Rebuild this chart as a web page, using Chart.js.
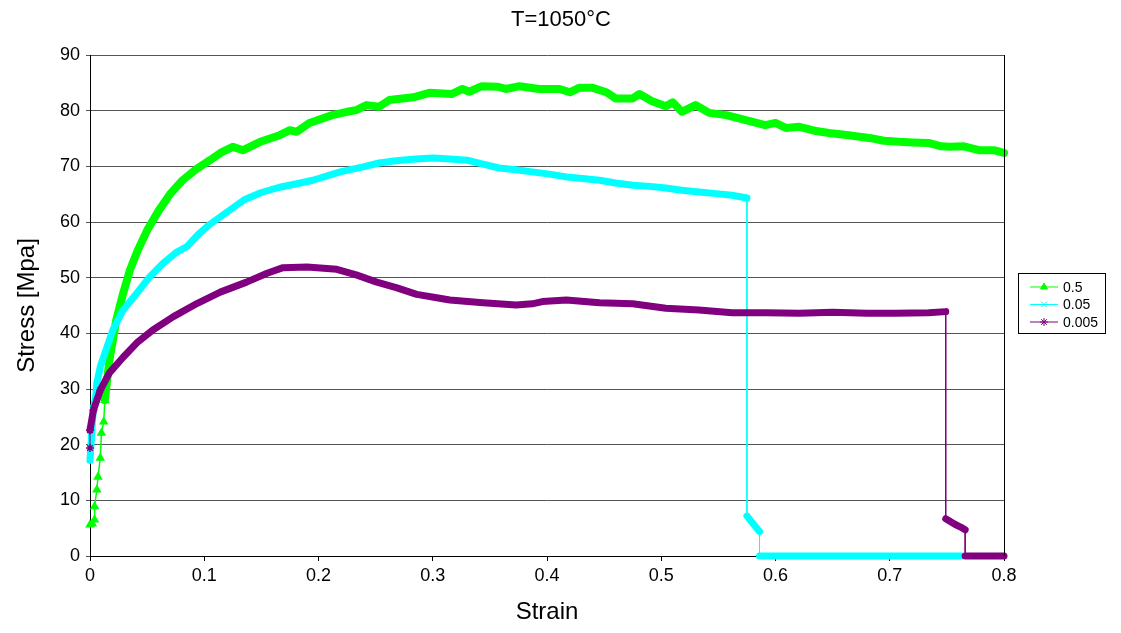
<!DOCTYPE html>
<html>
<head>
<meta charset="utf-8">
<script src="https://cdn.jsdelivr.net/npm/chart.js@4.4.0/dist/chart.umd.min.js"></script>
<style>
  html, body { margin: 0; padding: 0; background: #fff; }
  #wrap { width: 1121px; height: 633px; }
</style>
</head>
<body>
<div id="wrap"><canvas id="chart" width="1121" height="633"></canvas></div>
<script>
// Curvas tensão x deformação (T = 1050 °C)
const strainA = [0, 0.002, 0.004, 0.004, 0.006, 0.007, 0.009, 0.010, 0.012, 0.013, 0.015, 0.017, 0.020, 0.023, 0.029, 0.035, 0.042,
  0.050, 0.060, 0.070, 0.081, 0.093, 0.105, 0.115, 0.125, 0.134, 0.149, 0.166, 0.175, 0.181, 0.192, 0.212, 0.225, 0.233,
  0.242, 0.253, 0.262, 0.283, 0.297, 0.317, 0.326, 0.332, 0.343, 0.357, 0.364, 0.376, 0.393, 0.411, 0.420, 0.428, 0.440,
  0.452, 0.460, 0.475, 0.481, 0.492, 0.504, 0.510, 0.518, 0.530, 0.542, 0.557, 0.574, 0.591, 0.600, 0.609, 0.621, 0.634,
  0.647, 0.664, 0.682, 0.695, 0.708, 0.720, 0.734, 0.745, 0.752, 0.765, 0.778, 0.791, 0.800];
const stressA = [5.6, 5.8, 6.5, 8.9, 11.9, 14.2, 17.6, 22.1, 24.1, 28.0, 31.6, 35.2, 38.8, 42.4, 47.2, 51.4, 55.0,
  58.5, 62.0, 65.0, 67.5, 69.5, 71.1, 72.5, 73.5, 72.9, 74.4, 75.6, 76.5, 76.2, 77.8, 79.2, 79.8, 80.1,
  81.0, 80.7, 81.9, 82.4, 83.2, 83.0, 83.9, 83.4, 84.4, 84.3, 83.9, 84.4, 83.9, 83.9, 83.3, 84.1, 84.1,
  83.3, 82.2, 82.2, 83.0, 81.7, 80.8, 81.5, 79.8, 81.0, 79.6, 79.2, 78.3, 77.4, 77.8, 76.9, 77.1, 76.4,
  76.0, 75.6, 75.1, 74.6, 74.4, 74.3, 74.2, 73.6, 73.5, 73.6, 72.9, 72.9, 72.4];

const strainB = [0, 0.001, 0.002, 0.003, 0.005, 0.006, 0.009, 0.015, 0.020, 0.029, 0.041, 0.052, 0.064, 0.076, 0.085,
  0.095, 0.105, 0.120, 0.135, 0.150, 0.165, 0.184, 0.195, 0.219, 0.239, 0.253, 0.268, 0.285, 0.300, 0.315, 0.330,
  0.344, 0.358, 0.373, 0.387, 0.402, 0.417, 0.431, 0.446, 0.460, 0.475, 0.490, 0.504, 0.518, 0.533, 0.548, 0.562,
  0.575, 0.575, 0.578, 0.582, 0.586, 0.586, 0.763];
const stressB = [17.2, 20.3, 23.9, 26.5, 28.6, 31.1, 34.0, 37.6, 40.6, 44.2, 47.2, 50.1, 52.6, 54.6, 55.6,
  57.8, 59.6, 61.8, 64.0, 65.3, 66.2, 67.0, 67.5, 69.0, 69.9, 70.6, 71.0, 71.3, 71.5, 71.3, 71.1,
  70.4, 69.7, 69.4, 69.0, 68.6, 68.1, 67.8, 67.5, 67.0, 66.6, 66.4, 66.1, 65.7, 65.4, 65.1, 64.8,
  64.3, 7.2, 6.4, 5.4, 4.4, 0, 0];

const strainC = [0, 0, 0.003, 0.009, 0.017, 0.029, 0.041, 0.055, 0.073, 0.094, 0.114, 0.137, 0.155, 0.169, 0.190,
  0.216, 0.233, 0.251, 0.268, 0.286, 0.306, 0.315, 0.344, 0.373, 0.387, 0.396, 0.417, 0.446, 0.475, 0.504, 0.533,
  0.562, 0.592, 0.621, 0.650, 0.680, 0.705, 0.734, 0.749, 0.749, 0.753, 0.757, 0.762, 0.766, 0.766, 0.800];
const stressC = [19.4, 22.6, 26.2, 29.8, 32.9, 35.7, 38.3, 40.6, 43.0, 45.4, 47.4, 49.2, 50.8, 51.8, 51.9,
  51.5, 50.5, 49.2, 48.2, 47.0, 46.3, 46.0, 45.5, 45.1, 45.3, 45.7, 46.0, 45.5, 45.3, 44.5, 44.2,
  43.7, 43.7, 43.6, 43.8, 43.6, 43.6, 43.7, 43.9, 6.7, 6.2, 5.7, 5.2, 4.7, 0, 0];

const seriesLabels = ["0.5", "0.05", "0.005"];
const xTicks = [0, 0.1, 0.2, 0.3, 0.4, 0.5, 0.6, 0.7, 0.8];
const yTicks = [0, 10, 20, 30, 40, 50, 60, 70, 80, 90];
const chartTitle = "T=1050°C";

const FONT = "'Liberation Sans', Arial, sans-serif";

function pts(xs, ys) {
  return xs.map((x, i) => ({ x: x, y: ys[i] }));
}

// início da curva: marcadores soltos
function isStart(p) {
  return p.x < 0.02 && p.y < 30;
}

function makeSet(label, data, color, style, width, order, thinStart) {
  return {
    label: label,
    data: data,
    borderColor: color,
    backgroundColor: color,
    borderWidth: width,
    borderJoinStyle: "round",
    borderCapStyle: "round",
    pointStyle: style,
    pointRadius: ctx => (ctx.raw && isStart(ctx.raw)) ? 4 : 0,
    pointBorderWidth: 1.5,
    pointBorderColor: color,
    pointBackgroundColor: color,
    tension: 0,
    clip: false,
    order: order,
    segment: {
      borderWidth: ctx => {
        const dx = Math.abs(ctx.p1.x - ctx.p0.x);
        const dy = Math.abs(ctx.p1.y - ctx.p0.y);
        if (dx < 1 && dy > 15) return 1; // quedas verticais
        if (thinStart && isStart(data[ctx.p1DataIndex])) return 1.5;
        return width;
      },
    },
  };
}

const datasets = [
  makeSet(seriesLabels[0], pts(strainA, stressA), "#00ff00", "triangle", 8, 2, true),
  makeSet(seriesLabels[1], pts(strainB, stressB), "#00ffff", "crossRot", 7, 1, false),
  makeSet(seriesLabels[2], pts(strainC, stressC), "#800080", "star", 7, 0, false),
];

// título, moldura direita e legenda com caixa
const extras = {
  id: "extras",
  afterDraw(chart) {
    const ctx = chart.ctx;
    const a = chart.chartArea;
    ctx.save();
    ctx.fillStyle = "#000";
    ctx.font = "22px " + FONT;
    ctx.textAlign = "center";
    ctx.textBaseline = "middle";
    ctx.fillText(chartTitle, 561, 20);

    ctx.strokeStyle = "#000";
    ctx.lineWidth = 1;
    ctx.beginPath();
    ctx.moveTo(Math.round(a.right) + 0.5, a.top);
    ctx.lineTo(Math.round(a.right) + 0.5, a.bottom);
    ctx.stroke();

    ctx.strokeRect(1018.5, 273.5, 87, 60);
    ctx.font = "14px " + FONT;
    ctx.textAlign = "left";
    chart.data.datasets.forEach((ds, i) => {
      const y = 287 + i * 17.5;
      ctx.strokeStyle = ds.borderColor;
      ctx.fillStyle = ds.borderColor;
      ctx.lineWidth = 1;
      ctx.beginPath();
      ctx.moveTo(1030, y);
      ctx.lineTo(1058, y);
      ctx.stroke();
      Chart.helpers.drawPoint(ctx, {
        pointStyle: ds.pointStyle, radius: 4, borderWidth: 1, rotation: 0,
      }, 1044, y);
      ctx.fillStyle = "#000";
      ctx.fillText(ds.label, 1063, y + 1);
    });
    ctx.restore();
  },
};

new Chart(document.getElementById("chart"), {
  type: "line",
  data: { datasets: datasets },
  plugins: [extras],
  options: {
    responsive: false,
    animation: false,
    layout: { padding: { left: 0, right: 117, top: 55, bottom: 0 } },
    plugins: {
      legend: { display: false },
      tooltip: { enabled: false },
      title: { display: false },
    },
    scales: {
      x: {
        type: "linear",
        min: 0,
        max: 0.8,
        afterBuildTicks: s => { s.ticks = xTicks.map(v => ({ value: v })); },
        afterFit: s => { s.height = 77; },
        grid: { drawOnChartArea: false, drawTicks: true, tickLength: 5, color: "#000" },
        border: { color: "#000", width: 1 },
        ticks: {
          color: "#000",
          padding: 4,
          maxRotation: 0,
          font: { family: FONT, size: 18 },
          callback: v => String(v),
        },
        title: {
          display: true,
          text: "Strain",
          color: "#000",
          font: { family: FONT, size: 24 },
          padding: { top: 0, bottom: 6 },
        },
      },
      y: {
        type: "linear",
        min: 0,
        max: 90,
        afterBuildTicks: s => { s.ticks = yTicks.map(v => ({ value: v })); },
        afterFit: s => { s.width = 90; },
        grid: { color: "#555", tickLength: 4, lineWidth: 1 },
        border: { color: "#000", width: 1 },
        ticks: {
          color: "#000",
          padding: 6,
          font: { family: FONT, size: 18 },
        },
        title: {
          display: true,
          text: "Stress [Mpa]",
          color: "#000",
          font: { family: FONT, size: 24 },
          padding: { top: 13, bottom: 0 },
        },
      },
    },
  },
});
</script>
</body>
</html>
